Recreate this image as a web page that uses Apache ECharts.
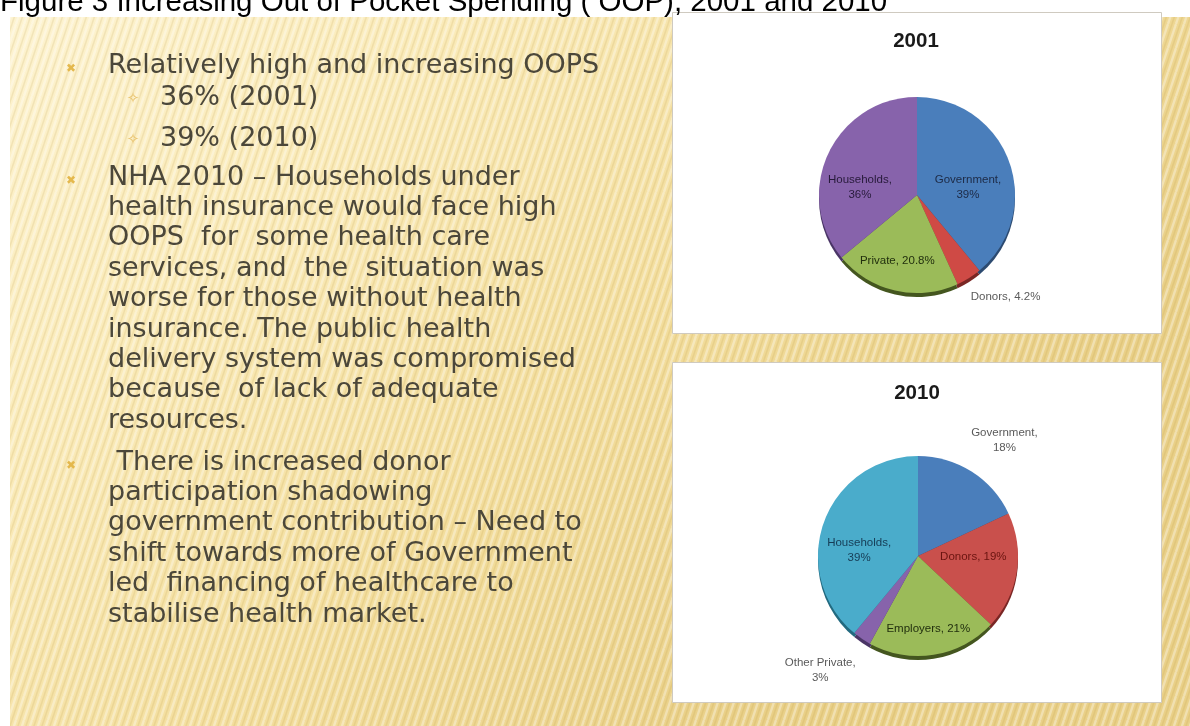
<!DOCTYPE html>
<html>
<head>
<meta charset="utf-8">
<script src="https://cdn.jsdelivr.net/npm/echarts@6/dist/echarts.min.js"></script>
<style>
  html, body { margin: 0; padding: 0; background: #ffffff; }
  #chart { width: 1190px; height: 726px; }
</style>
</head>
<body>
<div id="chart"></div>
<script>
// ---- content ----
const figureTitle = 'Figure 3 Increasing Out of Pocket Spending ( OOP), 2001 and 2010';
const years = ['2001', '2010'];

const sources2001 = ['Government', 'Donors', 'Private', 'Households'];
const shares2001 = [39, 4.2, 20.8, 36];

const sources2010 = ['Government', 'Donors', 'Employers', 'Other Private', 'Households'];
const shares2010 = [18, 19, 21, 3, 39];

const bulletLevels = [0, 1, 1, 0, 0];
const bulletTexts = [
  ['Relatively high and increasing OOPS'],
  ['36% (2001)'],
  ['39% (2010)'],
  ['NHA 2010 \u2013 Households under',
   'health insurance would face high',
   'OOPS  for  some health care',
   'services, and  the  situation was',
   'worse for those without health',
   'insurance. The public health',
   'delivery system was compromised',
   'because  of lack of adequate',
   'resources.'],
  [' There is increased donor',
   'participation shadowing',
   'government contribution \u2013 Need to',
   'shift towards more of Government',
   'led  financing of healthcare to',
   'stabilise health market.']
];

// ---- layout & styling ----
const textFont = '"DejaVu Sans", sans-serif';
const textSize = 27;
const textColor = '#4b473a';
const linePitch = 30.4;
const firstBaselines = [75, 107, 148, 187, 472];

const pieSpecs = [
  {
    year: years[0], names: sources2001, values: shares2001,
    center: [917, 195], radius: 98, titleTop: 31,
    colors: ['#4a7ebb', '#cf4a45', '#9bbb59', '#8763ab'],
    rims: ['#2c4a70', '#7a2624', '#44561f', '#4a3566'],
    labelColors: ['#1d2a45', '#5a5a5a', '#22300e', '#271a3a'],
    wrap: ['Government', 'Households'],
    nudge: [[2, 10], [61, 58], [-8, 15], [-10, 14]]
  },
  {
    year: years[1], names: sources2010, values: shares2010,
    center: [918, 556], radius: 100, titleTop: 383,
    colors: ['#4a7ebb', '#c9504c', '#9bbb59', '#8763ab', '#4aaccb'],
    rims: ['#2c4a70', '#7a2624', '#44561f', '#4a3566', '#226a80'],
    labelColors: ['#5a5a5a', '#6a1410', '#22300e', '#5a5a5a', '#163c55'],
    wrap: ['Government', 'Households', 'Other Private'],
    nudge: [[58, -71], [3, -7], [2, 20], [-68, 70], [-9, 12]]
  }
];

// fine slanted stripes of the slide background
function stripeTile() {
  const c = document.createElement('canvas');
  c.width = 8; c.height = 24;
  const g = c.getContext('2d');
  g.lineWidth = 2.4;
  g.strokeStyle = 'rgba(255,255,255,0.34)';
  for (const x of [-8, 0, 8]) { g.beginPath(); g.moveTo(x, 24); g.lineTo(x + 8, 0); g.stroke(); }
  g.lineWidth = 1.6;
  g.strokeStyle = 'rgba(170,130,40,0.13)';
  for (const x of [-12, -4, 4, 12]) { g.beginPath(); g.moveTo(x, 24); g.lineTo(x + 8, 0); g.stroke(); }
  return c;
}

const graphics = [];
// slide background
graphics.push({
  type: 'rect', silent: true,
  shape: { x: 10, y: 17, width: 1180, height: 709 },
  style: {
    fill: new echarts.graphic.LinearGradient(0, 0, 0.6, 1, [
      { offset: 0, color: '#fdf3d0' },
      { offset: 0.3, color: '#faebba' },
      { offset: 0.65, color: '#f3de9e' },
      { offset: 1, color: '#e9d088' }
    ])
  }
});
graphics.push({
  type: 'rect', silent: true,
  shape: { x: 10, y: 17, width: 1180, height: 709 },
  style: { fill: { image: stripeTile(), repeat: 'repeat' } }
});
// white chart panels
graphics.push({
  type: 'rect', silent: true,
  shape: { x: 672.5, y: 12.5, width: 489, height: 321 },
  style: { fill: '#ffffff', stroke: '#cfcac0', lineWidth: 1 }
});
graphics.push({
  type: 'rect', silent: true,
  shape: { x: 672.5, y: 362.5, width: 489, height: 340 },
  style: { fill: '#ffffff', stroke: '#cfcac0', lineWidth: 1 }
});
// figure caption
graphics.push({
  type: 'text', silent: true, x: 0, y: 13 - 0.3465 * 29.5,
  style: {
    text: figureTitle, fill: '#000000', fontSize: 29.5,
    fontFamily: '"Liberation Sans", Arial, sans-serif',
    align: 'left', verticalAlign: 'middle'
  }
});
// bullet list
bulletTexts.forEach((lines, i) => {
  const level = bulletLevels[i];
  const base = firstBaselines[i];
  const textX = level === 0 ? 108 : 160;
  if (level === 0) {
    graphics.push({
      type: 'text', silent: true, x: 71, y: base - 6,
      style: { text: '\u2716', fill: '#e4b84c', fontSize: 12, fontFamily: textFont, align: 'center', verticalAlign: 'middle' }
    });
  } else {
    graphics.push({
      type: 'text', silent: true, x: 133, y: base - 8,
      style: { text: '\u2727', fill: '#e9c36e', fontSize: 15, fontFamily: textFont, align: 'center', verticalAlign: 'middle' }
    });
  }
  lines.forEach((line, j) => {
    graphics.push({
      type: 'text', silent: true, x: textX, y: base + j * linePitch - 0.3465 * textSize,
      style: { text: line, fill: textColor, fontSize: textSize, fontFamily: textFont, align: 'left', verticalAlign: 'middle' }
    });
  });
});

const titles = [];
const series = [];
pieSpecs.forEach(spec => {
  titles.push({
    text: spec.year, left: spec.center[0] - 1, top: spec.titleTop, textAlign: 'center', padding: 0,
    textStyle: { fontSize: 20.5, fontWeight: 'bold', color: '#1a1a1a', fontFamily: '"Liberation Sans", Arial, sans-serif' }
  });
  // darker edge under the pie
  series.push({
    type: 'pie', silent: true, z: 1, animation: false,
    center: [spec.center[0], spec.center[1] + 4], radius: spec.radius,
    startAngle: 90, clockwise: true,
    label: { show: false }, labelLine: { show: false },
    itemStyle: { borderWidth: 0 },
    emphasis: { disabled: true },
    data: spec.names.map((n, i) => ({ name: n, value: spec.values[i], itemStyle: { color: spec.rims[i] } }))
  });
  series.push({
    type: 'pie', z: 2, animation: false,
    center: spec.center, radius: spec.radius,
    startAngle: 90, clockwise: true, avoidLabelOverlap: false,
    itemStyle: { borderWidth: 0 },
    emphasis: { disabled: true },
    label: {
      show: true, position: 'inside',
      fontSize: 11.5, lineHeight: 15, fontFamily: '"Liberation Sans", Arial, sans-serif',
      formatter: p => spec.wrap.includes(p.name) ? p.name + ',\n' + p.value + '%' : p.name + ', ' + p.value + '%'
    },
    labelLine: { show: false },
    labelLayout: p => ({ dx: spec.nudge[p.dataIndex][0], dy: spec.nudge[p.dataIndex][1] }),
    data: spec.names.map((n, i) => ({
      name: n, value: spec.values[i],
      itemStyle: { color: spec.colors[i] },
      label: { color: spec.labelColors[i] }
    }))
  });
});

const chart = echarts.init(document.getElementById('chart'), null, { renderer: 'canvas' });
chart.setOption({
  backgroundColor: '#ffffff',
  animation: false,
  title: titles,
  graphic: { elements: graphics },
  series: series
});
</script>
</body>
</html>
